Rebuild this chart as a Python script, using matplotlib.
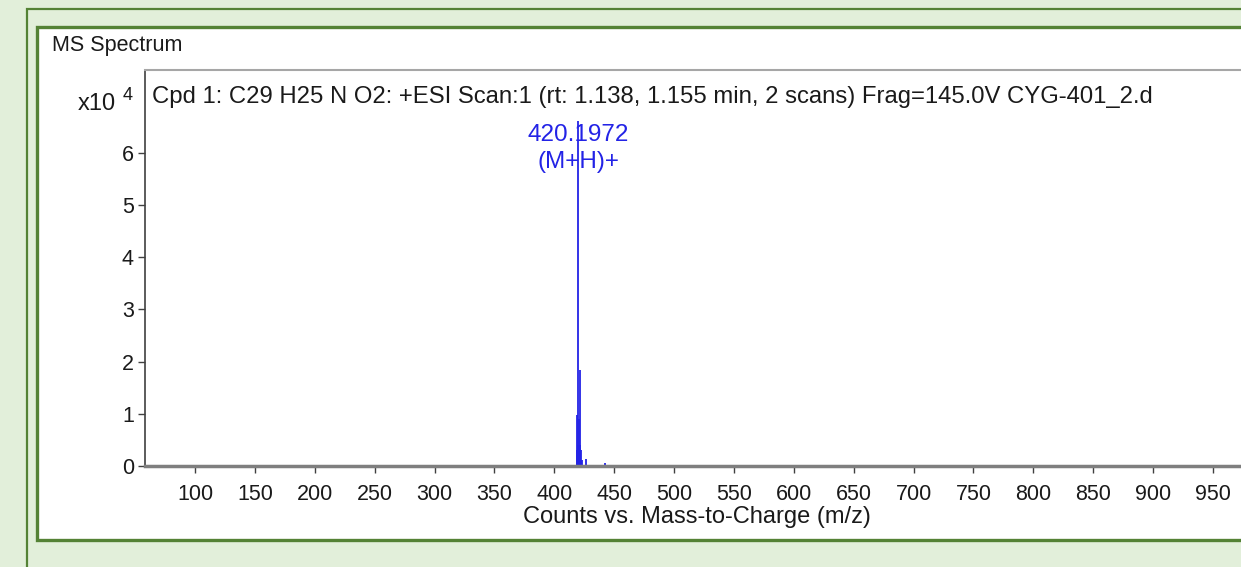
import matplotlib
matplotlib.use("Agg")
import matplotlib.pyplot as plt
from matplotlib.patches import Rectangle

# spectrum data (m/z, counts)
mz_values = [418.9, 419.2, 419.6, 420.197, 420.7, 421.2, 421.7, 422.2, 423.2, 426.5, 442.2]
counts = [3000, 9800, 4000, 66100, 9000, 18400, 4000, 3100, 1200, 1300, 600]

x_ticks = list(range(100, 1000, 50))
y_ticks = [0, 1, 2, 3, 4, 5, 6]

peak_mz = 420.1972
peak_label = "420.1972"
peak_ion = "(M+H)+"

title = "Cpd 1: C29 H25 N O2: +ESI Scan:1 (rt: 1.138, 1.155 min, 2 scans) Frag=145.0V CYG-401_2.d"
panel_title = "MS Spectrum"

W, H = 1241, 567
green = "#548235"
bg = "#e2efda"
blue = "#2323e6"
font = ["Liberation Sans", "DejaVu Sans"]

fig = plt.figure(figsize=(W / 100, H / 100), dpi=100)
fig.patch.set_facecolor(bg)

# outer thin frame and inner white panel (behind the axes)
fig.patches.append(Rectangle((27 / W, -0.1), 2, 1 - 9 / H + 0.1, transform=fig.transFigure,
                             facecolor="none", edgecolor=green, lw=1.6, zorder=-2))
fig.patches.append(Rectangle((36.5 / W, 1 - 540 / H), 2, (540 - 26.5) / H, transform=fig.transFigure,
                             facecolor="white", edgecolor=green, lw=2.4, zorder=-1))

fig.text(52 / W, 1 - 45 / H, panel_title, family=font, fontsize=15.5, va="center", ha="left",
         color="#1a1a1a")

ax = fig.add_axes([145 / W, 1 - 466 / H, (1249 - 145) / W, (466 - 70) / H])
ax.set_facecolor("white")

ax.vlines(mz_values, 0, [c / 1e4 for c in counts], color=blue, lw=1.3)

ax.set_xlim(58.25, 980.1)
ax.set_ylim(0, 7.586)
ax.set_xticks(x_ticks)
ax.set_yticks(y_ticks)
ax.tick_params(axis="both", direction="out", length=5, width=1, color="#404040",
               labelsize=15.5, pad=3)
ax.tick_params(axis="x", pad=8)
for lab in ax.get_xticklabels() + ax.get_yticklabels():
    lab.set_family(font)
    lab.set_color("#1a1a1a")

ax.spines["right"].set_visible(False)
ax.spines["top"].set_color("#a6a6a6")
ax.spines["top"].set_linewidth(1.5)
ax.spines["left"].set_color("#404040")
ax.spines["left"].set_linewidth(1.2)
ax.spines["bottom"].set_color("#7f7f7f")
ax.spines["bottom"].set_linewidth(2.5)

ax.set_xlabel("Counts vs. Mass-to-Charge (m/z)", family=font, fontsize=17, labelpad=1,
              color="#1a1a1a")

ax.text(7 / 1104, 1 - 27 / 396, title, transform=ax.transAxes, family=font, fontsize=17.2,
        va="center", ha="left", color="#1a1a1a")

fig.text(97 / W, 1 - 104 / H, "x10", family=font, fontsize=17, va="center", ha="center",
         color="#1a1a1a")
fig.text(128 / W, 1 - 96 / H, "4", family=font, fontsize=13, va="center", ha="center",
         color="#1a1a1a")

ax.text(peak_mz, 6.34, peak_label, family=font, fontsize=17.5, ha="center", va="center", color=blue)
ax.text(peak_mz, 5.82, peak_ion, family=font, fontsize=17.5, ha="center", va="center", color=blue)

fig.savefig("out.png", dpi=100, facecolor=bg)
